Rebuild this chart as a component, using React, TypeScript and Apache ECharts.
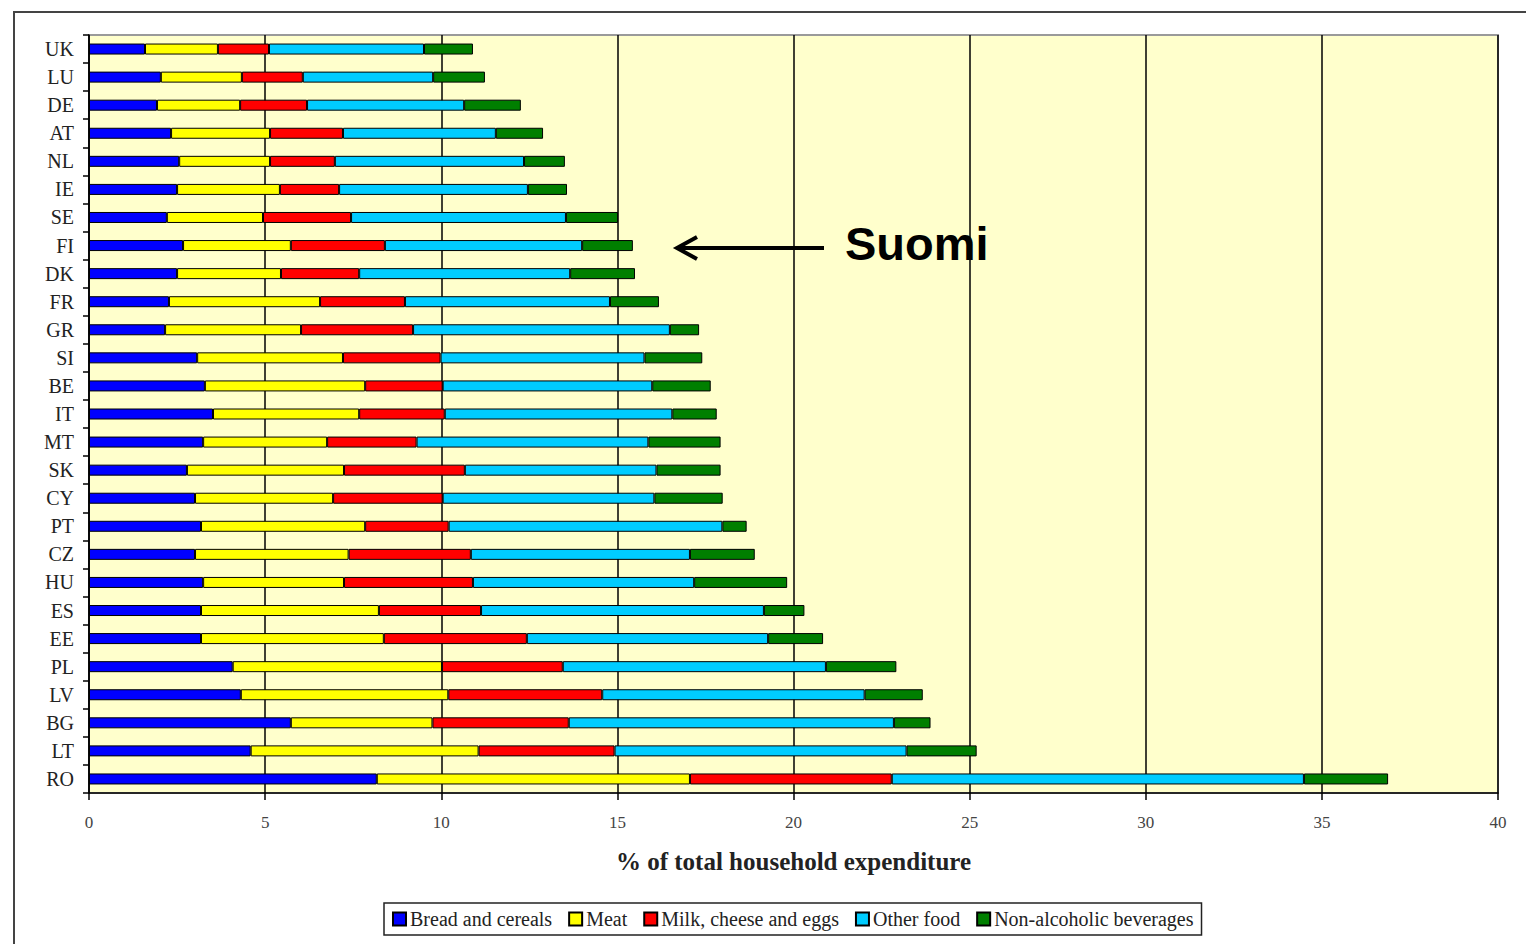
import React, { useEffect, useRef } from "react";
import * as echarts from "echarts";

const countries = ["UK","LU","DE","AT","NL","IE","SE","FI","DK","FR","GR","SI","BE","IT","MT","SK","CY","PT","CZ","HU","ES","EE","PL","LV","BG","LT","RO"];

const breadCereals = [1.59,2.04,1.93,2.33,2.56,2.50,2.21,2.67,2.50,2.27,2.16,3.07,3.29,3.52,3.24,2.78,3.01,3.18,3.01,3.24,3.18,3.18,4.08,4.31,5.73,4.59,8.17];
const meat = [2.07,2.30,2.36,2.81,2.58,2.92,2.73,3.06,2.95,4.29,3.86,4.14,4.55,4.15,3.52,4.46,3.92,4.66,4.36,4.00,5.05,5.19,5.94,5.89,4.02,6.47,8.89];
const milkCheeseEggs = [1.45,1.73,1.90,2.07,1.84,1.68,2.50,2.67,2.22,2.41,3.18,2.77,2.20,2.43,2.54,3.43,3.11,2.37,3.47,3.66,2.90,4.06,3.43,4.37,3.87,3.86,5.73];
const otherFood = [4.40,3.70,4.46,4.34,5.37,5.36,6.10,5.60,5.99,5.82,7.29,5.79,5.95,6.46,6.58,5.44,6.01,7.77,6.22,6.28,8.03,6.85,7.47,7.45,9.23,8.29,11.70];
const nonAlcoholic = [1.39,1.47,1.61,1.34,1.16,1.11,1.48,1.44,1.84,1.39,0.83,1.64,1.66,1.26,2.05,1.82,1.94,0.69,1.84,2.64,1.15,1.56,2.00,1.65,1.04,1.99,2.39];

const seriesNames = ["Bread and cereals","Meat","Milk, cheese and eggs","Other food","Non-alcoholic beverages"];
const seriesColors = ["#0000FF","#FFFF00","#FF0000","#00CCFF","#007F00"];
const seriesData = [breadCereals, meat, milkCheeseEggs, otherFood, nonAlcoholic];

const xTicks = [0,5,10,15,20,25,30,35,40];
const axisTitle = "% of total household expenditure";
const annotation = "Suomi";

const serif = "'Liberation Serif', 'DejaVu Serif', serif";

export default function App() {
  const ref = useRef<HTMLDivElement>(null);
  useEffect(() => {
    if (!ref.current) return;
    const chart = echarts.init(ref.current, undefined, { renderer: "svg" });
    chart.setOption({
      animation: false,
      backgroundColor: "#ffffff",
      grid: {
        left: 89, right: 28, top: 35, bottom: 151,
        show: true, backgroundColor: "#FFFFCC", borderColor: "#9a9a9a", borderWidth: 2,
      },
      xAxis: {
        type: "value",
        min: xTicks[0], max: xTicks[xTicks.length - 1], interval: 5,
        axisLine: { show: true, lineStyle: { color: "#000", width: 1.5 } },
        axisTick: { show: true, length: 7, lineStyle: { color: "#000", width: 1.5 } },
        axisLabel: { color: "#444", fontFamily: serif, fontSize: 17, margin: 21 },
        splitLine: { show: true, lineStyle: { color: "#000", width: 1.5 } },
        name: axisTitle, nameLocation: "middle", nameGap: 56,
        nameTextStyle: { fontFamily: serif, fontSize: 25, fontWeight: "bold", color: "#222" },
      },
      yAxis: {
        type: "category",
        data: countries,
        inverse: true,
        axisLine: { show: true, lineStyle: { color: "#000", width: 1.5 } },
        axisTick: { show: true, length: 6, lineStyle: { color: "#000", width: 1.5 } },
        axisLabel: { color: "#222", fontFamily: serif, fontSize: 20, margin: 15 },
        splitLine: { show: false },
      },
      legend: {
        left: 384, bottom: 9,
        data: seriesNames,
        itemWidth: 13, itemHeight: 13, itemGap: 16,
        borderColor: "#222", borderWidth: 1.5, padding: [6, 8, 6, 8],
        backgroundColor: "#fff",
        textStyle: { fontFamily: serif, fontSize: 20, color: "#222", padding: [0, 0, 0, -1] },
        icon: "rect",
      },
      series: seriesNames.map((name, i) => ({
        name, type: "bar", stack: "total",
        data: seriesData[i],
        barWidth: 11,
        itemStyle: { color: seriesColors[i], borderColor: "#000", borderWidth: 1 },
      })),
      graphic: [
        { type: "polyline", shape: { points: [[14, 944], [14, 12], [1526, 12]] }, style: { stroke: "#444", lineWidth: 2, fill: "none" } },
        { type: "line", shape: { x1: 824, y1: 248, x2: 678, y2: 248 }, style: { stroke: "#000", lineWidth: 4 } },
        { type: "polyline", shape: { points: [[697, 237], [677, 248], [697, 259]] }, style: { stroke: "#000", lineWidth: 4, fill: "none" } },
        { type: "text", x: 845, y: 243, style: { text: annotation, fontFamily: "'Liberation Sans', Arial, sans-serif", fontWeight: "bold", fontSize: 47, fill: "#000", textVerticalAlign: "middle", verticalAlign: "middle" } },
      ],
    });
    return () => chart.dispose();
  }, []);
  return <div ref={ref} style={{ position: "fixed", left: 0, top: 0, width: 1526, height: 944 }} />;
}
